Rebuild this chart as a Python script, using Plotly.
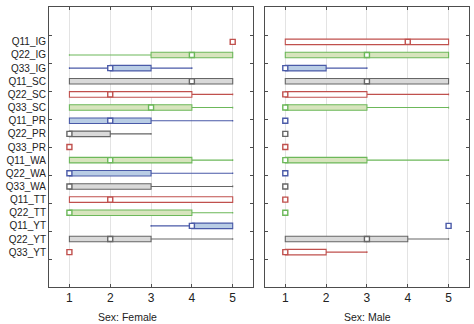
import plotly.graph_objects as go

labels = ["Q11_IG", "Q22_IG", "Q33_IG", "Q11_SC", "Q22_SC", "Q33_SC",
          "Q11_PR", "Q22_PR", "Q33_PR", "Q11_WA", "Q22_WA", "Q33_WA",
          "Q11_TT", "Q22_TT", "Q11_YT", "Q22_YT", "Q33_YT"]

# Female: min, q1, median, q3, max
f_min = [5, 1, 1, 1, 1, 1, 1, 1, 1, 1, 1, 1, 1, 1, 3, 1, 1]
f_q1  = [5, 3, 2, 1, 1, 1, 1, 1, 1, 1, 1, 1, 1, 1, 4, 1, 1]
f_med = [5, 4, 2, 4, 2, 3, 2, 1, 1, 2, 1, 1, 2, 1, 4, 2, 1]
f_q3  = [5, 5, 3, 5, 4, 4, 3, 2, 1, 4, 3, 3, 5, 4, 5, 3, 1]
f_max = [5, 5, 4, 5, 5, 5, 5, 3, 1, 5, 5, 5, 5, 5, 5, 5, 1]

# Male
m_min = [1, 1, 1, 1, 1, 1, 1, 1, 1, 1, 1, 1, 1, 1, 5, 1, 1]
m_q1  = [1, 1, 1, 1, 1, 1, 1, 1, 1, 1, 1, 1, 1, 1, 5, 1, 1]
m_med = [4, 3, 1, 3, 1, 1, 1, 1, 1, 1, 1, 1, 1, 1, 5, 3, 1]
m_q3  = [5, 5, 2, 5, 3, 3, 1, 1, 1, 3, 1, 1, 1, 1, 5, 4, 2]
m_max = [5, 5, 3, 5, 5, 5, 1, 1, 1, 5, 1, 1, 1, 1, 5, 5, 3]

x_ticks = [1, 2, 3, 4, 5]
panel_titles = ["Sex: Female", "Sex: Male"]

line_colors = ["#c0504d", "#6cb85a", "#4a5aa8", "#666666"]
fill_colors = ["#ffffff", "#d7e4bd", "#b9cde5", "#d9d9d9"]

AX = "#4d4d4d"
FONT = "Liberation Sans, Arial, sans-serif"
TXT = "#222222"

fig = go.Figure()
rows = list(range(len(labels)))

panels = [
    (f_min, f_q1, f_med, f_q3, f_max, "x", "y"),
    (m_min, m_q1, m_med, m_q3, m_max, "x2", "y2"),
]
for (mn, q1, md, q3, mx, xa, ya) in panels:
    for c in range(4):
        idx = [i for i in rows if i % 4 == c]
        fig.add_trace(go.Box(
            orientation="h",
            y=idx,
            q1=[q1[i] for i in idx],
            median=[md[i] for i in idx],
            q3=[q3[i] for i in idx],
            lowerfence=[mn[i] for i in idx],
            upperfence=[mx[i] for i in idx],
            width=0.42,
            whiskerwidth=0.3,
            fillcolor=fill_colors[c],
            line=dict(color=line_colors[c], width=1.1),
            boxpoints=False,
            xaxis=xa, yaxis=ya,
            hoverinfo="skip",
        ))
        fig.add_trace(go.Scatter(
            x=[md[i] for i in idx], y=idx, mode="markers",
            marker=dict(symbol="square", size=5, color="white",
                        line=dict(color=line_colors[c], width=1.4)),
            xaxis=xa, yaxis=ya, hoverinfo="skip",
        ))

# empty traces so the tick-mark axes are drawn
fig.add_trace(go.Scatter(x=[], y=[], xaxis="x", yaxis="y3"))
fig.add_trace(go.Scatter(x=[], y=[], xaxis="x2", yaxis="y4"))

yrange = [len(labels) - 1 + 2.65, -2.65]

xcommon = dict(range=[0.5, 5.5], tickvals=x_ticks, ticks="inside", ticklen=3,
               tickcolor=AX, showline=True, linecolor=AX, linewidth=1,
               mirror="ticks", showgrid=True, gridcolor="#e3e3e3", gridwidth=1,
               zeroline=False,
               tickfont=dict(family=FONT, size=12, color=TXT))

fig.update_layout(
    width=474, height=324,
    margin=dict(l=49, r=5, t=7, b=37),
    paper_bgcolor="white", plot_bgcolor="white",
    showlegend=False, boxmode="overlay",
    xaxis=dict(domain=[0, 0.486], anchor="y", **xcommon),
    xaxis2=dict(domain=[0.514, 1], anchor="y2", **xcommon),
    yaxis=dict(domain=[0, 1], anchor="x", range=yrange, tickvals=rows,
               ticktext=labels, ticks="", showline=True, linecolor=AX,
               mirror=True, showgrid=False, zeroline=False,
               tickfont=dict(family=FONT, size=10, color=TXT)),
    yaxis2=dict(domain=[0, 1], anchor="x2", range=yrange, tickvals=rows,
                showticklabels=False, ticks="", showline=True, linecolor=AX,
                mirror=True, showgrid=False, zeroline=False),
    yaxis3=dict(overlaying="y", anchor="x", range=[0, 10], dtick=1,
                ticks="inside", ticklen=3, tickcolor=AX, mirror="ticks",
                showline=True, linecolor=AX, showticklabels=False,
                showgrid=False, zeroline=False),
    yaxis4=dict(overlaying="y2", anchor="x2", range=[0, 10], dtick=1,
                ticks="inside", ticklen=3, tickcolor=AX, mirror="ticks",
                showline=True, linecolor=AX, showticklabels=False,
                showgrid=False, zeroline=False),
    annotations=[
        dict(text=panel_titles[0], xref="paper", yref="paper",
             x=(127 - 49) / 420, y=0, yshift=-30, showarrow=False,
             xanchor="center", yanchor="middle",
             font=dict(family=FONT, size=10.5, color=TXT)),
        dict(text=panel_titles[1], xref="paper", yref="paper",
             x=(367 - 49) / 420, y=0, yshift=-30, showarrow=False,
             xanchor="center", yanchor="middle",
             font=dict(family=FONT, size=10.5, color=TXT)),
    ],
)

fig.write_html("out.html")
